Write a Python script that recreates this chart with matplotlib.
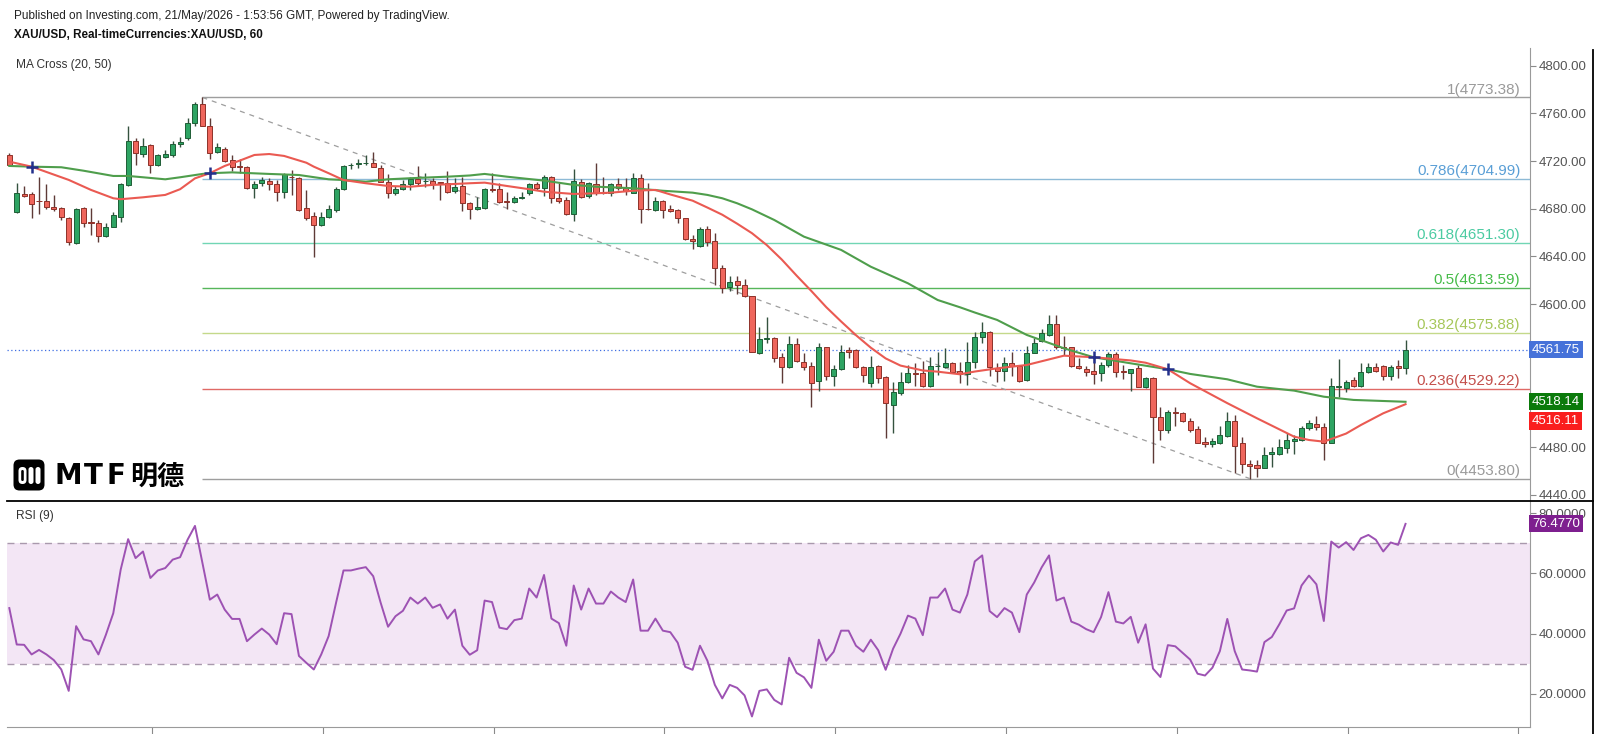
import matplotlib
matplotlib.use("Agg")
import matplotlib.pyplot as plt
from matplotlib.patches import FancyBboxPatch
import numpy as np

plt.rcParams['font.family'] = ['Liberation Sans', 'DejaVu Sans']

# ---------------- data ----------------
opens = [4724.8, 4677.6, 4692.0, 4692.2, 4686.8, 4686.5, 4681.1, 4680.4, 4672.5, 4651.6,
         4680.4, 4668.5, 4668.3, 4657.2, 4664.5, 4672.9, 4700.0, 4737.1, 4726.0, 4733.5,
         4716.7, 4723.7, 4725.1, 4734.3, 4739.1, 4751.7, 4767.9, 4749.4, 4727.9, 4730.1,
         4720.9, 4715.5, 4715.3, 4697.2, 4701.4, 4703.3, 4700.5, 4694.3, 4707.0, 4706.1,
         4680.4, 4673.9, 4666.4, 4673.1, 4679.0, 4696.4, 4716.4, 4717.8, 4718.0, 4718.2,
         4714.5, 4702.7, 4693.0, 4696.4, 4700.5, 4704.7, 4703.2, 4703.3, 4702.2, 4701.4,
         4695.1, 4699.1, 4684.6, 4680.0, 4680.4, 4696.4, 4696.4, 4686.3, 4685.5, 4689.3,
         4693.0, 4700.5, 4697.2, 4706.9, 4689.3, 4687.4, 4675.7, 4702.7, 4690.7, 4700.5,
         4693.8, 4693.5, 4700.5, 4697.2, 4693.5, 4706.1, 4679.8, 4679.0, 4686.5, 4679.8,
         4679.0, 4672.0, 4654.9, 4648.5, 4663.0, 4653.0, 4630.6, 4614.2, 4619.5, 4616.1,
         4606.9, 4558.8, 4571.1, 4571.4, 4555.5, 4547.1, 4566.6, 4551.8, 4548.0, 4535.8,
         4563.9, 4540.0, 4545.4, 4561.6, 4561.6, 4547.1, 4533.7, 4548.2, 4538.7, 4515.5,
         4525.3, 4535.0, 4542.6, 4542.0, 4531.2, 4548.2, 4547.1, 4551.0, 4544.2, 4541.5,
         4551.8, 4572.2, 4576.9, 4546.7, 4544.0, 4550.9, 4548.2, 4536.4, 4559.3, 4569.4,
         4574.2, 4583.4, 4563.9, 4563.9, 4548.2, 4545.4, 4544.0, 4542.6, 4549.0, 4558.2,
         4543.6, 4542.6, 4546.2, 4530.3, 4537.9, 4505.2, 4494.5, 4509.3, 4509.0, 4502.3,
         4495.1, 4484.7, 4482.8, 4483.4, 4489.5, 4502.3, 4483.4, 4466.0, 4465.1, 4462.9,
         4474.3, 4474.3, 4479.2, 4485.6, 4486.1, 4495.9, 4499.5, 4496.7, 4483.9, 4530.8,
         4529.5, 4536.4, 4531.4, 4543.4, 4547.6, 4548.2, 4539.8, 4548.2, 4546.2]
highs = [4726.5, 4701.9, 4699.0, 4694.4, 4706.4, 4700.5, 4691.3, 4681.2, 4673.4, 4680.4,
         4681.2, 4680.4, 4670.6, 4668.3, 4677.6, 4701.4, 4749.4, 4739.1, 4739.1, 4734.3,
         4725.7, 4729.3, 4737.1, 4740.0, 4755.9, 4769.8, 4773.38, 4755.9, 4734.9, 4732.1,
         4725.1, 4722.0, 4715.5, 4703.6, 4706.4, 4705.6, 4704.1, 4709.8, 4712.5, 4706.6,
         4695.8, 4677.6, 4676.9, 4683.2, 4698.5, 4716.7, 4718.6, 4721.5, 4725.1, 4727.9,
         4716.7, 4708.9, 4699.1, 4704.1, 4706.9, 4715.9, 4709.8, 4705.6, 4702.7, 4711.7,
         4705.6, 4706.4, 4686.0, 4690.1, 4697.2, 4710.3, 4701.9, 4694.3, 4690.7, 4694.3,
         4701.4, 4702.7, 4708.3, 4707.5, 4701.4, 4690.1, 4713.4, 4704.7, 4702.7, 4718.2,
         4706.9, 4701.9, 4705.6, 4705.6, 4710.3, 4709.2, 4701.9, 4690.1, 4687.4, 4683.2,
         4679.6, 4672.5, 4658.0, 4665.0, 4665.5, 4660.0, 4632.9, 4623.9, 4623.7, 4620.9,
         4607.2, 4581.1, 4589.5, 4572.2, 4558.8, 4573.3, 4571.4, 4559.3, 4551.8, 4567.2,
         4564.4, 4549.0, 4565.8, 4563.9, 4562.2, 4548.2, 4556.6, 4549.0, 4539.8, 4535.0,
         4543.4, 4549.0, 4550.4, 4552.6, 4556.0, 4560.2, 4563.0, 4551.8, 4551.8, 4568.6,
         4576.9, 4585.3, 4577.5, 4550.9, 4555.5, 4560.2, 4549.0, 4565.0, 4571.4, 4579.0,
         4590.9, 4590.9, 4573.3, 4564.4, 4554.6, 4548.2, 4556.0, 4551.8, 4560.2, 4560.2,
         4549.0, 4545.6, 4549.0, 4538.7, 4538.7, 4514.0, 4511.3, 4513.5, 4509.8, 4504.3,
         4497.9, 4488.9, 4487.5, 4497.9, 4509.8, 4507.1, 4488.9, 4469.4, 4469.4, 4480.5,
         4480.5, 4486.7, 4491.7, 4490.0, 4497.9, 4502.9, 4506.2, 4500.6, 4537.9, 4553.8,
         4536.4, 4538.7, 4550.4, 4550.4, 4550.4, 4549.0, 4549.0, 4553.2, 4570.0]
lows = [4715.8, 4676.5, 4690.0, 4672.0, 4675.6, 4679.6, 4678.4, 4670.6, 4649.6, 4650.5,
        4665.0, 4658.0, 4652.4, 4656.6, 4664.5, 4669.2, 4699.5, 4716.7, 4723.7, 4709.8,
        4716.0, 4722.3, 4723.7, 4732.0, 4737.7, 4749.4, 4749.0, 4721.5, 4726.5, 4719.5,
        4712.0, 4710.0, 4696.4, 4688.8, 4699.1, 4695.8, 4686.5, 4688.8, 4691.6, 4678.4,
        4670.6, 4639.8, 4665.6, 4672.0, 4677.6, 4695.8, 4713.1, 4714.0, 4716.7, 4714.8,
        4702.2, 4688.8, 4691.6, 4695.8, 4695.8, 4700.0, 4698.5, 4696.4, 4687.4, 4693.5,
        4693.0, 4678.2, 4671.2, 4679.0, 4679.6, 4694.3, 4684.6, 4679.6, 4684.6, 4688.0,
        4691.6, 4695.8, 4690.8, 4685.2, 4684.6, 4674.8, 4670.0, 4688.8, 4688.8, 4691.6,
        4692.4, 4690.7, 4695.8, 4691.6, 4693.0, 4668.3, 4679.0, 4678.2, 4672.0, 4677.6,
        4667.8, 4653.8, 4646.0, 4648.0, 4649.0, 4616.1, 4609.1, 4611.3, 4608.6, 4605.8,
        4559.7, 4558.2, 4567.2, 4551.8, 4533.7, 4546.2, 4551.8, 4544.8, 4514.0, 4527.5,
        4536.4, 4531.4, 4544.8, 4554.6, 4546.2, 4535.0, 4530.8, 4533.7, 4487.5, 4491.7,
        4523.9, 4534.2, 4531.4, 4530.8, 4530.8, 4540.6, 4546.2, 4542.1, 4533.7, 4532.2,
        4546.2, 4567.2, 4539.8, 4535.0, 4535.6, 4539.8, 4535.0, 4535.8, 4558.8, 4568.6,
        4573.3, 4562.2, 4557.4, 4547.6, 4545.4, 4539.8, 4533.1, 4535.8, 4547.6, 4538.7,
        4537.0, 4527.5, 4530.3, 4529.5, 4466.6, 4486.1, 4491.7, 4497.9, 4501.5, 4493.1,
        4483.3, 4480.5, 4480.0, 4482.8, 4488.9, 4458.2, 4458.2, 4453.8, 4455.0, 4462.4,
        4463.7, 4473.6, 4475.0, 4474.0, 4485.6, 4494.5, 4494.5, 4469.4, 4483.3, 4522.4,
        4526.6, 4530.8, 4530.3, 4542.1, 4543.4, 4536.4, 4536.4, 4537.9, 4541.2]
closes = [4716.4, 4693.0, 4691.0, 4684.0, 4686.3, 4681.8, 4679.6, 4672.9, 4652.4, 4679.6,
          4668.3, 4668.0, 4657.2, 4665.0, 4674.8, 4700.5, 4737.1, 4726.5, 4732.7, 4716.7,
          4725.1, 4726.0, 4734.3, 4736.3, 4751.7, 4767.9, 4749.4, 4727.0, 4731.6, 4720.3,
          4714.8, 4715.0, 4697.2, 4700.8, 4704.1, 4700.5, 4694.3, 4708.9, 4706.5, 4679.0,
          4672.0, 4666.4, 4673.1, 4679.6, 4696.4, 4716.1, 4716.9, 4718.2, 4718.3, 4715.3,
          4702.7, 4693.0, 4696.4, 4700.5, 4704.7, 4701.9, 4703.5, 4700.8, 4701.9, 4694.3,
          4698.5, 4684.6, 4679.6, 4681.2, 4696.4, 4696.0, 4686.0, 4686.0, 4689.3, 4689.8,
          4700.5, 4697.2, 4706.4, 4688.8, 4686.8, 4675.7, 4703.3, 4689.6, 4701.9, 4693.5,
          4693.5, 4700.5, 4697.2, 4695.1, 4706.1, 4679.6, 4679.6, 4686.8, 4679.0, 4678.4,
          4672.0, 4654.4, 4652.7, 4662.7, 4652.4, 4630.1, 4613.3, 4618.9, 4616.1, 4606.9,
          4560.2, 4570.6, 4571.4, 4554.6, 4547.1, 4566.6, 4552.6, 4547.1, 4533.7, 4563.9,
          4540.0, 4545.4, 4560.2, 4560.2, 4547.1, 4540.6, 4547.6, 4537.9, 4516.9, 4526.6,
          4535.0, 4542.6, 4541.2, 4531.4, 4548.2, 4548.5, 4551.0, 4543.4, 4541.5, 4551.8,
          4572.2, 4576.4, 4547.6, 4544.0, 4550.9, 4548.2, 4535.8, 4559.3, 4567.2, 4575.6,
          4583.4, 4563.9, 4563.6, 4548.2, 4546.2, 4543.4, 4541.5, 4549.0, 4558.2, 4543.4,
          4543.4, 4545.4, 4530.8, 4537.9, 4505.2, 4494.5, 4509.7, 4509.0, 4502.3, 4494.5,
          4483.9, 4482.8, 4485.6, 4490.3, 4502.3, 4481.4, 4466.0, 4464.3, 4462.9, 4473.6,
          4476.3, 4480.5, 4486.1, 4486.7, 4495.9, 4500.6, 4496.7, 4483.9, 4531.4, 4531.2,
          4535.0, 4531.4, 4543.4, 4547.1, 4544.2, 4539.8, 4547.1, 4546.2, 4561.75]

ma20_bar = [0, 3, 8, 11, 14, 15, 18, 21, 23, 25, 27, 29, 31, 33, 35, 37, 40, 41, 43, 45,
            48, 51, 54, 57, 59, 62, 64, 67, 70, 72, 76, 79, 81, 84, 87, 89, 92, 94, 96, 98,
            100, 102, 104, 106, 108, 110, 112, 114, 116, 118, 120, 123, 125, 128, 130, 133,
            137, 142, 146, 151, 153, 156, 159, 164, 168, 173, 175, 177, 180, 182, 185, 188]
ma20_val = [4719.5, 4715.3, 4704.2, 4695.8, 4688.8, 4688.0, 4689.6, 4691.6, 4696.4, 4705.5,
            4709.8, 4715.9, 4720.3, 4725.1, 4725.9, 4724.3, 4718.6, 4715.3, 4709.8, 4704.1,
            4701.4, 4699.1, 4698.5, 4700.0, 4700.5, 4701.4, 4701.9, 4699.1, 4696.4, 4694.3,
            4692.4, 4693.0, 4693.5, 4695.1, 4695.8, 4692.0, 4686.8, 4681.0, 4675.0, 4667.5,
            4659.5, 4649.5, 4637.5, 4624.0, 4611.0, 4597.5, 4585.5, 4574.0, 4563.5, 4554.5,
            4548.5, 4544.4, 4543.4, 4541.2, 4543.5, 4546.2, 4549.0, 4556.8, 4555.5, 4552.8,
            4550.9, 4545.4, 4533.7, 4517.0, 4504.3, 4488.9, 4486.1, 4484.7, 4491.5, 4498.7,
            4508.5, 4516.11]
ma50_bar = [0, 3, 7, 10, 14, 16, 18, 21, 23, 26, 27, 30, 35, 39, 43, 45, 48, 51, 54, 57,
            59, 62, 64, 67, 72, 76, 79, 81, 84, 88, 92, 94, 96, 98, 100, 103, 107, 112, 116,
            121, 125, 128, 130, 133, 137, 142, 146, 151, 156, 159, 164, 168, 173, 177, 181,
            188]
ma50_val = [4715.9, 4715.3, 4714.8, 4711.9, 4707.5, 4707.5, 4706.4, 4704.7, 4706.4, 4709.2,
            4709.8, 4710.5, 4709.2, 4708.3, 4704.7, 4704.1, 4702.7, 4704.7, 4705.6, 4706.4,
            4706.9, 4707.9, 4709.2, 4706.9, 4703.6, 4700.0, 4698.5, 4698.0, 4697.2, 4695.1,
            4693.5, 4691.6, 4688.8, 4684.6, 4679.5, 4670.6, 4656.6, 4645.5, 4631.4, 4617.5,
            4603.5, 4597.4, 4593.0, 4586.8, 4574.2, 4563.0, 4555.5, 4550.4, 4545.4, 4541.5,
            4537.0, 4530.8, 4527.5, 4522.4, 4519.7, 4518.14]
cross_bar = [3, 27, 146, 156]
cross_val = [4715.3, 4709.8, 4555.5, 4545.4]

rsi = [48.5, 36.4, 36.3, 33.1, 34.6, 33.1, 31.2, 28.1, 21.0, 42.5,
       38.1, 37.5, 33.1, 39.6, 46.8, 61.3, 71.4, 65.1, 67.3, 58.5,
       61.0, 61.8, 64.6, 65.4, 71.2, 75.8, 63.6, 51.3, 53.0, 48.0,
       44.9, 44.9, 37.5, 39.7, 41.7, 39.7, 36.5, 46.8, 46.5, 32.6,
       30.3, 28.1, 33.1, 39.2, 50.3, 61.0, 61.0, 61.6, 62.1, 59.1,
       50.3, 42.3, 45.8, 47.6, 52.0, 50.0, 52.0, 48.6, 49.7, 45.0,
       48.0, 36.0, 33.0, 34.5, 51.0, 50.5, 42.0, 41.5, 44.5, 45.0,
       55.0, 52.0, 59.5, 45.0, 43.5, 36.0, 56.0, 48.0, 55.0, 50.0,
       50.0, 54.0, 52.0, 50.5, 58.0, 41.0, 41.0, 45.0, 41.0, 40.5,
       37.0, 29.0, 28.0, 36.0, 31.0, 23.0, 18.5, 23.0, 22.0, 19.5,
       12.5, 21.0, 21.5, 18.0, 16.5, 32.0, 27.0, 25.5, 22.0, 38.0,
       31.0, 34.0, 41.0, 41.0, 36.0, 34.0, 38.0, 34.5, 28.0, 35.0,
       40.0, 46.0, 45.0, 39.5, 52.0, 52.0, 55.0, 48.0, 47.0, 53.0,
       64.0, 66.0, 47.5, 45.5, 48.5, 47.0, 40.5, 53.0, 57.0, 62.0,
       66.0, 51.0, 52.0, 44.0, 43.0, 41.5, 40.5, 45.5, 53.8, 44.0,
       43.4, 45.6, 37.0, 43.1, 28.4, 25.6, 36.2, 35.8, 33.6, 31.4,
       26.7, 26.1, 28.7, 34.2, 44.9, 34.2, 28.1, 27.8, 27.4, 37.2,
       38.9, 43.1, 47.7, 48.4, 56.0, 59.3, 56.4, 44.2, 70.6, 68.6,
       70.4, 67.8, 71.7, 72.8, 71.2, 67.3, 70.3, 69.5, 76.477]

fib_ratio = ['1', '0.786', '0.618', '0.5', '0.382', '0.236', '0']
fib_level = [4773.38, 4704.99, 4651.30, 4613.59, 4575.88, 4529.22, 4453.80]
fib_start_bar = 26
fib_end_bar = 167
last_price = 4561.75
ma50_last = 4518.14
ma20_last = 4516.11
rsi_last = 76.4770
price_ticks = [4440, 4480, 4520, 4560, 4600, 4640, 4680, 4720, 4760, 4800]
rsi_ticks = [20, 40, 60, 80]

# ---------------- style ----------------
W, H = 1600, 734
fig = plt.figure(figsize=(16, 7.34), dpi=100)
fig.patch.set_facecolor('white')

def fr(x0, y0, x1, y1):
    return [x0 / W, 1 - y1 / H, (x1 - x0) / W, (y1 - y0) / H]

PANE_L, PANE_R, TOP, SEP, BOT = 7, 1530, 48, 500.7, 727
ax = fig.add_axes(fr(PANE_L, TOP, PANE_R, SEP))
ax2 = fig.add_axes(fr(PANE_L, SEP, PANE_R, BOT))
XL, XR = -0.31, 204.76

GREEN, GREEN_E = '#2ea463', '#1f5d36'
RED, RED_E = '#ef665c', '#8e3129'
WICK_G, WICK_R = '#34523f', '#5e3a37'

o = np.array(opens); c = np.array(closes); h = np.array(highs); l = np.array(lows)
x = np.arange(len(o))
up = c > o
ax.vlines(x, l, h, colors=np.where(up, WICK_G, WICK_R), lw=1.0, zorder=3)
ax.bar(x, np.maximum(np.abs(c - o), 0.3), bottom=np.minimum(o, c), width=0.68,
       color=np.where(up, GREEN, RED), edgecolor=np.where(up, GREEN_E, RED_E),
       linewidth=0.7, zorder=4)

# fib
fib_line_col = ['#9e9e9e', '#8dbad6', '#71d6b4', '#56b65a', '#c4d98a', '#e06a66', '#9e9e9e']
fib_text_col = ['#9a9a9a', '#5a9fd6', '#4ccba2', '#45bb48', '#a6c75a', '#c34f4b', '#9a9a9a']
for r, lv, lc, tc in zip(fib_ratio, fib_level, fib_line_col, fib_text_col):
    ax.hlines(lv, fib_start_bar, XR, color=lc, lw=1.0, zorder=2)
    ax.annotate(f'{r}({lv:.2f})', xy=(1, lv), xycoords=ax.get_yaxis_transform(),
                xytext=(-7, 0.6), textcoords='offset points', ha='right', va='bottom',
                color=tc, fontsize=11, zorder=2)
ax.plot([fib_start_bar, fib_end_bar], [fib_level[0], fib_level[-1]],
        color='#9e9e9e', lw=0.9, ls=(0, (4, 4)), zorder=2)

# current price line
ax.axhline(last_price, color='#3f6ee2', lw=0.9, ls=(0, (1, 2)), zorder=2)

# MAs
ax.plot(ma50_bar, ma50_val, color='#4f9e4c', lw=1.5, zorder=5)
ax.plot(ma20_bar, ma20_val, color='#ea5a52', lw=1.5, zorder=5)
ax.plot(cross_bar, cross_val, '+', color='#23308c', ms=8, mew=1.8, zorder=6)

ax.set_xlim(XL, XR)
ax.set_ylim(4435.2, 4814.8)
for s in ['top', 'left', 'bottom']:
    ax.spines[s].set_visible(False)
ax.spines['right'].set_color('#9a9a9a')
ax.yaxis.tick_right()
ax.set_yticks(price_ticks)
# labels at 4520 / 4560 are covered by the value tags in the original
ax.set_yticklabels(['' if abs(v - last_price) < 15 or abs(v - ma50_last) < 15 else f'{v:.2f}'
                    for v in price_ticks])
ax.tick_params(axis='y', length=4, width=0.8, color='#8a8a8a', labelcolor='#555555',
               labelsize=9.5, pad=2)
ax.set_xticks([])

def tag(a, val, txt, fc, dy=0):
    a.annotate(txt, xy=(1, val), xycoords=a.get_yaxis_transform(), xytext=(1.5, dy),
               textcoords='offset points', ha='left', va='center', color='white',
               fontsize=9.5, annotation_clip=False, zorder=10,
               bbox=dict(boxstyle='square,pad=0.2', fc=fc, ec='none'))

tag(ax, last_price, f'{last_price:.2f}', '#4672d9')
tag(ax, ma50_last, f'{ma50_last:.2f}', '#0b7a0b')
tag(ax, ma20_last, f'{ma20_last:.2f}', '#fa1e1e', dy=-12)

# RSI pane
ax2.axhspan(30, 70, color='#f3e6f5', zorder=0, lw=0)
ax2.axhline(70, color='#a999ad', lw=1.0, ls=(0, (5, 4)), zorder=1)
ax2.axhline(30, color='#a999ad', lw=1.0, ls=(0, (5, 4)), zorder=1)
ax2.plot(np.arange(len(rsi)), rsi, color='#9d52b3', lw=1.4, zorder=3)
ax2.set_xlim(XL, XR)
ax2.set_ylim(9.0, 84.17)
for s in ['top', 'left']:
    ax2.spines[s].set_visible(False)
ax2.spines['right'].set_color('#9a9a9a')
ax2.spines['bottom'].set_color('#9a9a9a')
ax2.yaxis.tick_right()
ax2.set_yticks(rsi_ticks)
ax2.set_yticklabels([f'{v:.4f}' for v in rsi_ticks])
ax2.tick_params(axis='y', length=4, width=0.8, color='#8a8a8a', labelcolor='#555555',
                labelsize=9.5, pad=2)
ax2.set_xticks(np.arange(19.2, 205, 23.0))
ax2.tick_params(axis='x', length=6, width=0.8, color='#8a8a8a', labelbottom=False)
tag(ax2, rsi_last, f'{rsi_last:.4f}', '#7e1f8f')

# overlay in pixel coordinates
ov = fig.add_axes([0, 0, 1, 1], facecolor='none')
ov.set_xlim(0, W); ov.set_ylim(H, 0); ov.axis('off')
ov.plot([PANE_L, 1593], [SEP, SEP], color='black', lw=1.3)
ov.plot([1593, 1593], [50, H], color='black', lw=1.3)

ov.text(14, 16, 'Published on Investing.com, 21/May/2026 - 1:53:56 GMT, Powered by TradingView.',
        fontsize=8.5, color='#222222', va='center', ha='left')
ov.text(14, 35.5, 'XAU/USD, Real-timeCurrencies:XAU/USD, 60', fontsize=8.4,
        fontweight='bold', color='#111111', va='center', ha='left')
ov.text(16, 65, 'MA Cross (20, 50)', fontsize=8.6, color='#333333', va='center', ha='left')
ov.text(16, 516, 'RSI (9)', fontsize=8.6, color='#333333', va='center', ha='left')

# logo
ov.add_patch(FancyBboxPatch((13.5, 459.5), 31, 31, boxstyle='round,pad=0,rounding_size=6',
                            fc='black', ec='none'))
ov.add_patch(FancyBboxPatch((18.5, 467), 8, 17, boxstyle='round,pad=0,rounding_size=4',
                            fc='white', ec='none'))
ov.add_patch(FancyBboxPatch((21.2, 470), 2.6, 11, boxstyle='round,pad=0,rounding_size=1.3',
                            fc='black', ec='none'))
ov.add_patch(FancyBboxPatch((28.5, 467), 5, 17, boxstyle='round,pad=0,rounding_size=2.5',
                            fc='white', ec='none'))
ov.add_patch(FancyBboxPatch((35.5, 467), 5, 17, boxstyle='round,pad=0,rounding_size=2.5',
                            fc='white', ec='none'))
for ch, cx in zip(['M', 'T', 'F'], [68.0, 93.5, 115.5]):
    ov.text(cx, 476.5, ch, fontsize=20, fontweight='heavy', color='black', ha='center',
            va='center', family=['DejaVu Sans'])
ov.text(157.5, 476.5, '明德', fontsize=19.5, fontweight='bold', color='black', ha='center',
        va='center', family=['Noto Sans CJK TC', 'Noto Sans CJK SC', 'DejaVu Sans'])

fig.savefig('out.png', dpi=100, facecolor='white')
